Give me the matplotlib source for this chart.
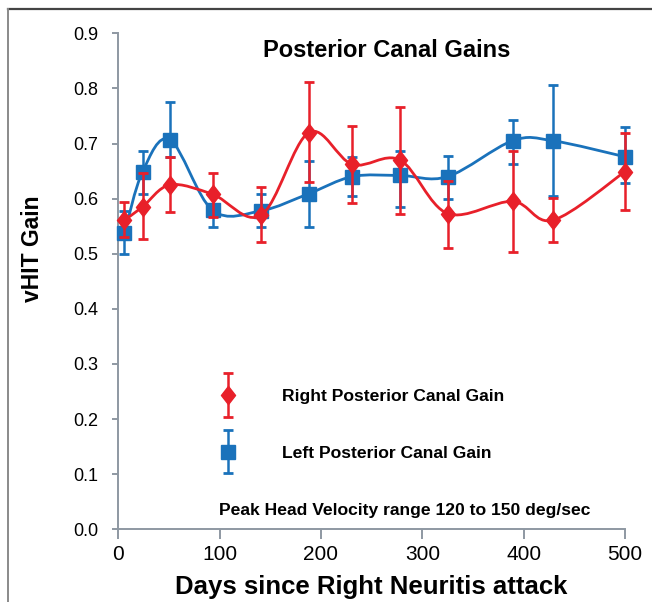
import numpy as np
import matplotlib
matplotlib.use('Agg')
import matplotlib.pyplot as plt
from matplotlib.path import Path
from matplotlib.patches import PathPatch
from matplotlib.lines import Line2D
from matplotlib.container import ErrorbarContainer
from matplotlib.legend_handler import HandlerErrorbar

plt.rcParams['font.family'] = ['Liberation Sans', 'DejaVu Sans']

# days since attack (same visits for both ears)
days = [6, 24, 51, 93, 141, 188, 231, 278, 325, 389, 429, 500]

# right posterior canal
right_gain = [0.561, 0.585, 0.625, 0.608, 0.570, 0.720, 0.662, 0.670, 0.573, 0.595, 0.561, 0.649]
right_hi = [0.593, 0.647, 0.675, 0.647, 0.622, 0.812, 0.731, 0.766, 0.632, 0.687, 0.601, 0.719]
right_lo = [0.531, 0.527, 0.575, 0.567, 0.521, 0.630, 0.592, 0.572, 0.511, 0.504, 0.522, 0.579]

# left posterior canal
left_gain = [0.537, 0.649, 0.707, 0.579, 0.578, 0.609, 0.640, 0.642, 0.640, 0.705, 0.705, 0.676]
left_hi = [0.578, 0.687, 0.776, 0.610, 0.609, 0.669, 0.675, 0.687, 0.677, 0.743, 0.807, 0.730]
left_lo = [0.499, 0.608, 0.676, 0.548, 0.548, 0.548, 0.605, 0.585, 0.599, 0.662, 0.605, 0.629]

xticks = [0, 100, 200, 300, 400, 500]
yticks = [0.0, 0.1, 0.2, 0.3, 0.4, 0.5, 0.6, 0.7, 0.8, 0.9]

RED = '#E8202A'
BLUE = '#1A72BB'
AXC = '#8E98A2'

W, H = 652, 602
fig = plt.figure(figsize=(W / 100, H / 100), dpi=100)
ax = fig.add_axes([118.3 / W, 1 - 529.3 / H, (625 - 118.3) / W, (529.3 - 33.3) / H])


def smooth_path(xs, ys, sx, sy):
    # excel-like smoothed line: cubic bezier, control points from neighbours (in screen scale)
    P = np.column_stack([np.asarray(xs) * sx, np.asarray(ys) * sy])
    P = np.vstack([P[0], P, P[-1]])
    verts = [P[1]]
    codes = [Path.MOVETO]
    for i in range(1, len(P) - 2):
        c1 = P[i] + (P[i + 1] - P[i - 1]) / 6
        c2 = P[i + 1] - (P[i + 2] - P[i]) / 6
        verts += [c1, c2, P[i + 1]]
        codes += [Path.CURVE4] * 3
    verts = np.array(verts)
    verts[:, 0] /= sx
    verts[:, 1] /= sy
    return Path(verts, codes)


sx = 506.7 / 500
sy = 551.0

diamond = Path([(0, 1), (0.78, 0), (0, -1), (-0.78, 0), (0, 1)],
               [Path.MOVETO, Path.LINETO, Path.LINETO, Path.LINETO, Path.CLOSEPOLY])

# blue (left) underneath
ax.add_patch(PathPatch(smooth_path(days, left_gain, sx, sy), fill=False, edgecolor=BLUE, lw=2.0,
                       zorder=2, clip_on=False))
ax.add_patch(PathPatch(smooth_path(days, right_gain, sx, sy), fill=False, edgecolor=RED, lw=2.0,
                       zorder=4, clip_on=False))

lg = np.array(left_gain)
eb_left = ax.errorbar(days, left_gain, yerr=[lg - np.array(left_lo), np.array(left_hi) - lg],
                      marker='s', linestyle='none', ms=9.5, color=BLUE, mec=BLUE, ecolor=BLUE,
                      elinewidth=1.8, capsize=3.6, capthick=2.0, zorder=3)
rg = np.array(right_gain)
eb_right = ax.errorbar(days, right_gain, yerr=[rg - np.array(right_lo), np.array(right_hi) - rg],
                       marker=diamond, linestyle='none', ms=13, color=RED, mec=RED, ecolor=RED,
                       elinewidth=1.8, capsize=3.6, capthick=2.0, zorder=5)
for eb in (eb_left, eb_right):
    for art in eb.get_children():
        art.set_clip_on(False)

ax.set_xlim(0, 500)
ax.set_ylim(0, 0.9)
ax.set_xticks(xticks)
ax.set_xticklabels([str(v) for v in xticks])
ax.set_yticks(yticks)
ax.set_yticklabels([f'{v:.1f}' for v in yticks])

for s in ['top', 'right']:
    ax.spines[s].set_visible(False)
for s in ['left', 'bottom']:
    ax.spines[s].set_color(AXC)
    ax.spines[s].set_linewidth(1.4)
ax.tick_params(axis='y', direction='out', length=4.5, width=1.4, color=AXC, labelsize=13, pad=10)
ax.tick_params(axis='x', direction='out', length=7, width=1.4, color=AXC, labelsize=15, pad=4)

ax.text(0.529, 0.952, 'Posterior Canal Gains', transform=ax.transAxes, ha='center', va='baseline',
        fontsize=17, fontweight='bold')
ax.text(-0.17, 0.565, 'vHIT Gain', transform=ax.transAxes, ha='center', va='center', rotation=90,
        fontsize=16.5, fontweight='bold')
ax.set_xlabel('Days since Right Neuritis attack', fontsize=18.5, fontweight='bold', labelpad=8)
ax.text((405 - 118.3) / 506.7, (529.3 - 515) / 496, 'Peak Head Velocity range 120 to 150 deg/sec',
        transform=ax.transAxes, ha='center', va='baseline', fontsize=12.6, fontweight='bold')

leg = ax.legend([eb_right, eb_left], ['Right Posterior Canal Gain', 'Left Posterior Canal Gain'],
                handler_map={ErrorbarContainer: HandlerErrorbar(yerr_size=1.25)},
                loc='upper left', bbox_to_anchor=(219.0 / W, 1 - 389.0 / H), bbox_transform=fig.transFigure,
                frameon=False, borderpad=0, borderaxespad=0, handlelength=1.0, handletextpad=2.6,
                labelspacing=2.35, prop={'size': 12.6, 'weight': 'bold'})

# outer frame lines (top and left)
fig.add_artist(Line2D([8 / W, 1], [1 - 9 / H, 1 - 9 / H], transform=fig.transFigure, color='#444444', lw=1.6))
fig.add_artist(Line2D([8 / W, 8 / W], [0, 1 - 9 / H], transform=fig.transFigure, color='#8a8a8a', lw=1.4))

fig.savefig('out.png', dpi=100)
